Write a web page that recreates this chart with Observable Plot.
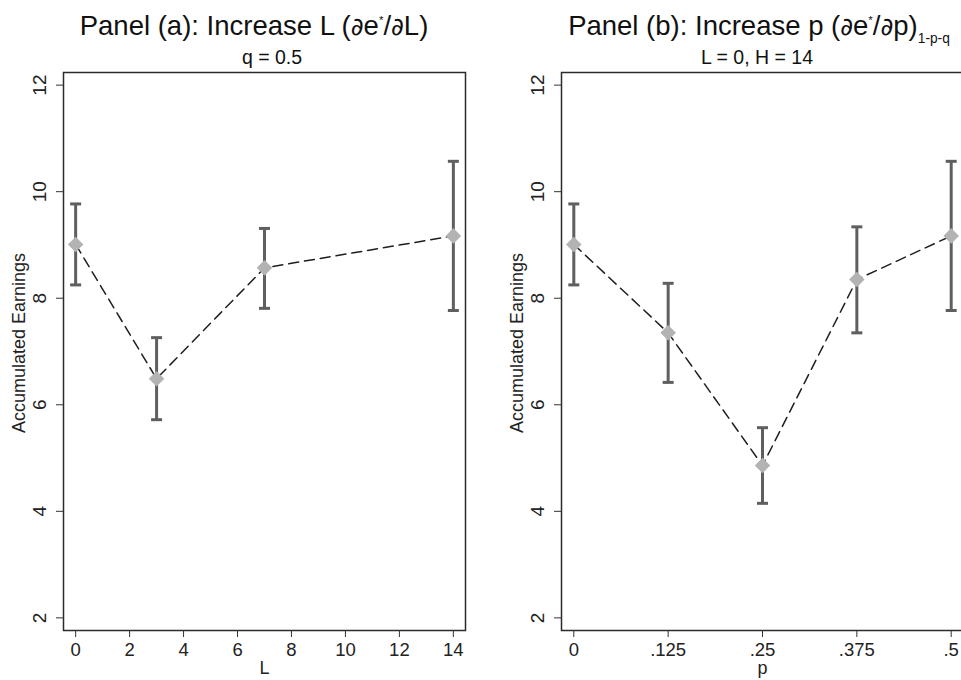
<!DOCTYPE html>
<html><head><meta charset="utf-8">
<script src="https://cdn.jsdelivr.net/npm/d3@7"></script>
<script src="https://cdn.jsdelivr.net/npm/@observablehq/plot@0.6"></script>
<style>
html,body{margin:0;padding:0;background:#fff;overflow:hidden;width:961px;height:680px;}
body{position:relative;font-family:"Liberation Sans",Arial,sans-serif;color:#111;}
.t{position:absolute;top:12px;white-space:nowrap;transform:translateX(-50%);font-size:27.5px;line-height:27px;z-index:2;}
.s{position:absolute;top:48px;white-space:nowrap;transform:translateX(-50%);font-size:19.5px;line-height:19px;z-index:2;}
.t sup{font-size:0.42em;vertical-align:0.95em;line-height:0;}
.t sub{font-size:0.5em;vertical-align:-0.55em;line-height:0;}
.d{font-family:"DejaVu Sans",sans-serif;font-size:0.9em;}
.panel{position:absolute;top:60px;width:480px;height:620px;z-index:1;}
.panel svg{max-width:none !important;background:transparent !important;}
</style>
</head><body>
<div class="t" style="left:254px">Panel (a): Increase L (<span class="d">∂</span>e<sup>*</sup>/<span class="d">∂</span>L)</div>
<div class="s" style="left:272px">q = 0.5</div>
<div class="t" style="left:759px">Panel (b): Increase p (<span class="d">∂</span>e<sup>*</sup>/<span class="d">∂</span>p)<sub>1-p-q</sub></div>
<div class="s" style="left:757px">L = 0, H = 14</div>
<div id="pa" class="panel" style="left:0px"></div>
<div id="pb" class="panel" style="left:498px"></div>
<script>
// Panel (a): increase L
const L_values = [0, 3, 7, 14];
const L_mean = [9.01, 6.49, 8.57, 9.17];
const L_low = [8.25, 5.72, 7.81, 7.77];
const L_high = [9.77, 7.26, 9.31, 10.57];
const L_ticks = [0, 2, 4, 6, 8, 10, 12, 14];

// Panel (b): increase p
const p_values = [0, 0.125, 0.25, 0.375, 0.5];
const p_mean = [9.01, 7.35, 4.86, 8.35, 9.17];
const p_low = [8.25, 6.42, 4.15, 7.35, 7.77];
const p_high = [9.77, 8.28, 5.57, 9.34, 10.57];
const p_ticks = [0, 0.125, 0.25, 0.375, 0.5];
const p_tickLabels = ["0", ".125", ".25", ".375", ".5"];

const y_ticks = [2, 4, 6, 8, 10, 12];
const y_label = "Accumulated Earnings";

const capSymbol = {
  draw(ctx, size) {
    const w = Math.sqrt(size / Math.PI);
    ctx.moveTo(-w, 0);
    ctx.lineTo(w, 0);
  }
};

function panel({xs, mean, low, high, xDomain, xTicks, xFormat, xLabel}) {
  const data = xs.map((x, i) => ({x, mean: mean[i], low: low[i], high: high[i]}));
  const barColor = "#5f5f5f";
  return Plot.plot({
    width: 480,
    height: 620,
    marginLeft: 63,
    marginRight: 15,
    marginTop: 12,
    marginBottom: 50,
    style: {fontFamily: "'Liberation Sans', Arial, sans-serif", fontSize: "19px", color: "#222", background: "transparent", overflow: "visible"},
    x: {domain: xDomain},
    y: {domain: [1.763, 12.237]},
    marks: [
      Plot.frame({stroke: "#2b2b2b", strokeWidth: 1.5}),
      Plot.axisY(y_ticks, {tickSize: 7, tickRotate: -90, tickPadding: 11, tickFormat: d => String(d), label: null, fontSize: 19, stroke: "#333"}),
      Plot.axisX(xTicks, {tickSize: 7, tickPadding: 5, tickFormat: xFormat, label: null, fontSize: 18.5, stroke: "#333"}),
      Plot.text([y_label], {frameAnchor: "left", rotate: -90, dx: -44, dy: -8.5, textAnchor: "middle", lineAnchor: "middle", fontSize: 18, fill: "#222"}),
      Plot.text([xLabel], {frameAnchor: "bottom", dy: 31, lineAnchor: "top", fontSize: 18, fill: "#222"}),
      Plot.ruleX(data, {x: "x", y1: "low", y2: "high", stroke: barColor, strokeWidth: 3}),
      Plot.dot(data, {x: "x", y: "low", symbol: capSymbol, r: 5.5, stroke: barColor, strokeWidth: 3, fill: "none"}),
      Plot.dot(data, {x: "x", y: "high", symbol: capSymbol, r: 5.5, stroke: barColor, strokeWidth: 3, fill: "none"}),
      Plot.line(data, {x: "x", y: "mean", stroke: "#1e1e1e", strokeWidth: 1.5, strokeDasharray: "10,6"}),
      Plot.dot(data, {x: "x", y: "mean", symbol: "diamond2", r: 7, fill: "#b3b3b3", stroke: "none"})
    ]
  });
}

document.getElementById("pa").append(panel({
  xs: L_values, mean: L_mean, low: L_low, high: L_high,
  xDomain: [-0.45, 14.45], xTicks: L_ticks, xFormat: d => String(d), xLabel: "L"
}));
document.getElementById("pb").append(panel({
  xs: p_values, mean: p_mean, low: p_low, high: p_high,
  xDomain: [-0.0163, 0.5163], xTicks: p_ticks, xFormat: d => p_tickLabels[p_ticks.indexOf(d)], xLabel: "p"
}));
</script>
</body></html>
